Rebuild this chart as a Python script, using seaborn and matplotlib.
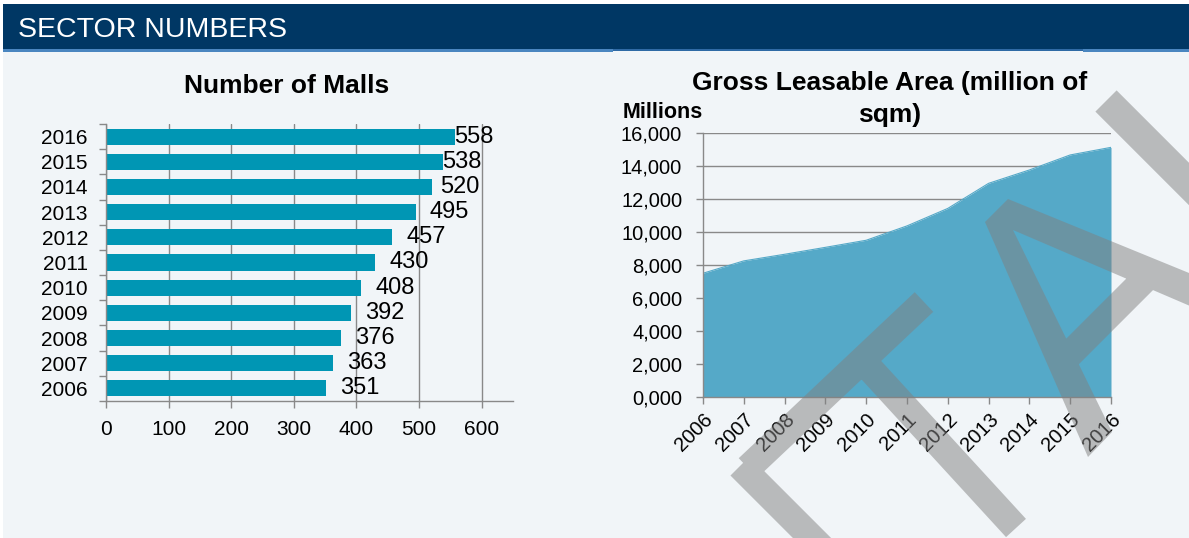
import numpy as np
import pandas as pd
import matplotlib
matplotlib.use("Agg")
import matplotlib.pyplot as plt
import seaborn as sns
from matplotlib.patches import Rectangle, PathPatch
from matplotlib.path import Path
from matplotlib.ticker import FixedLocator

# ---- data -------------------------------------------------------------
years = [2006, 2007, 2008, 2009, 2010, 2011, 2012, 2013, 2014, 2015, 2016]
malls = [351, 363, 376, 392, 408, 430, 457, 495, 520, 538, 558]
gla = [7500, 8250, 8650, 9070, 9500, 10370, 11430, 12950, 13760, 14670, 15130]
mall_ticks = [0, 100, 200, 300, 400, 500, 600]
gla_ticks = [0, 2000, 4000, 6000, 8000, 10000, 12000, 14000, 16000]
gla_tick_labels = ["0,000", "2,000", "4,000", "6,000", "8,000",
                   "10,000", "12,000", "14,000", "16,000"]

# label offsets (pixels past the bar end), 2006 -> 2016
label_shift_px = [14, 14, 14, 14, 14, 14, 14, 14, 9, -1, -1]

# ---- style ------------------------------------------------------------
sns.set_theme(style="white")
plt.rcParams["font.family"] = ["Liberation Sans", "DejaVu Sans"]
plt.rcParams["text.color"] = "black"

W, H = 1189, 538
BG = "#F1F5F8"
NAVY = "#003764"
GRID = "#898989"
BAR = "#0096B4"
AREA = "#55A9C8"
PX = 72 / 100  # points per pixel at 100 dpi

fig = plt.figure(figsize=(W / 100, H / 100), dpi=100, facecolor="white")

# page background, header band and titles in pixel coordinates
bg = fig.add_axes([0, 0, 1, 1], zorder=-10)
bg.set_xlim(0, W)
bg.set_ylim(H, 0)
bg.axis("off")
bg.add_patch(Rectangle((3, 4), W - 3, H - 4, color=BG, lw=0))
bg.add_patch(Rectangle((3, 4), W - 3, 45, color=NAVY, lw=0))
bg.add_patch(Rectangle((3, 49), 610, 3, color="#4A86C0", lw=0))
bg.add_patch(Rectangle((613, 49), 470, 1.5, color="#2F6AA5", lw=0))
bg.add_patch(Rectangle((1083, 49), W - 1083, 3, color="#4A86C0", lw=0))
bg.text(18, 37, "SECTOR NUMBERS", color="white", fontsize=20.5,
        ha="left", va="baseline")
bg.text(287, 93, "Number of Malls", fontsize=19, fontweight="bold",
        ha="center", va="baseline")
bg.text(890, 90, "Gross Leasable Area (million of", fontsize=19,
        fontweight="bold", ha="center", va="baseline")
bg.text(890, 122, "sqm)", fontsize=19, fontweight="bold",
        ha="center", va="baseline")
bg.text(623, 118, "Millions", fontsize=15.5, fontweight="bold",
        ha="left", va="baseline")

# ---- left: number of malls ------------------------------------------
ax1 = fig.add_axes([106 / W, 1 - 401 / H, 407 / W, 277 / H])
ax1.set_facecolor("none")
df = pd.DataFrame({"year": [str(y) for y in years], "malls": malls})
order = [str(y) for y in years[::-1]]
sns.barplot(data=df, x="malls", y="year", order=order, orient="h",
            color=BAR, saturation=1, width=0.64, linewidth=0, ax=ax1)
ax1.set_xlim(0, 650)
ax1.set_ylim(10.5, -0.5)
ax1.set_xlabel("")
ax1.set_ylabel("")
ax1.set_xticks(mall_ticks)
ax1.set_xticklabels([str(t) for t in mall_ticks])
ax1.grid(axis="x", color=GRID, lw=1.0)
ax1.grid(axis="y", visible=False)
ax1.set_axisbelow(True)
for s in ("top", "right"):
    ax1.spines[s].set_visible(False)
for s in ("left", "bottom"):
    ax1.spines[s].set_color(GRID)
    ax1.spines[s].set_linewidth(1.0)
ax1.yaxis.set_minor_locator(FixedLocator(np.arange(-0.5, 11, 1)))
ax1.tick_params(axis="y", which="major", length=0, pad=13, labelsize=15,
                labelcolor="black")
ax1.tick_params(axis="y", which="minor", left=True, length=5, width=1.0,
                color=GRID, direction="out")
ax1.tick_params(axis="x", which="major", bottom=True, length=5, width=1.0,
                color=GRID, direction="out", pad=9, labelsize=15,
                labelcolor="black")

lookup = dict(zip(years, malls))
shift = dict(zip(years, label_shift_px))
for i, y in enumerate(years[::-1]):
    v = lookup[y]
    ax1.annotate(str(v), xy=(v, i), xytext=(shift[y] * PX, 0),
                 textcoords="offset points", ha="left", va="center",
                 fontsize=17, color="black")

# ---- right: gross leasable area -------------------------------------
ax2 = fig.add_axes([703 / W, 1 - 397 / H, 408 / W, 264 / H])
ax2.set_facecolor("none")
ax2.fill_between(years, gla, 0, color=AREA, lw=0, zorder=2)
sns.lineplot(x=years, y=gla, color=AREA, lw=0.8, ax=ax2, zorder=3)
ax2.set_xlim(2006, 2016)
ax2.set_ylim(0, 16000)
ax2.set_yticks(gla_ticks)
ax2.set_yticklabels(gla_tick_labels)
ax2.set_xticks(years)
ax2.set_xticklabels([str(y) for y in years], rotation=45, ha="right",
                    rotation_mode="anchor")
ax2.grid(axis="y", color=GRID, lw=1.0, zorder=1)
ax2.grid(axis="x", visible=False)
ax2.set_axisbelow(True)
for s in ("top", "right"):
    ax2.spines[s].set_visible(False)
for s in ("left", "bottom"):
    ax2.spines[s].set_color(GRID)
    ax2.spines[s].set_linewidth(1.0)
    ax2.spines[s].set_zorder(4)
ax2.tick_params(axis="y", left=True, length=5, width=1.0, color=GRID,
                direction="out", pad=10, labelsize=14.5, labelcolor="black")
ax2.tick_params(axis="x", bottom=True, length=5, width=1.0, color=GRID,
                direction="out", pad=4, labelsize=14.5, labelcolor="black")

# ---- watermark strokes, drawn over everything -----------------------
wm = fig.add_axes([0, 0, 1, 1], zorder=10)
wm.set_xlim(0, W)
wm.set_ylim(H, 0)
wm.axis("off")
wm.set_facecolor("none")


def stroke(p0, p1, w):
    p0 = np.asarray(p0, float)
    p1 = np.asarray(p1, float)
    d = (p1 - p0) / np.hypot(*(p1 - p0))
    n = np.array([-d[1], d[0]]) * w / 2
    return np.array([p0 + n, p1 + n, p1 - n, p0 - n])


def oriented(poly):
    x, y = poly[:, 0], poly[:, 1]
    area = 0.5 * np.sum(x * np.roll(y, -1) - np.roll(x, -1) * y)
    return poly if area > 0 else poly[::-1]


a_legs = np.array([(985, 222), (1008, 199), (1260, 302), (1260, 336),
                   (1013, 230), (1112, 432), (1088, 457)], float)
polys = [
    stroke((924, 302), (748, 468), 27),    # T bar
    stroke((740, 466), (850, 576), 27),    # stroke below
    stroke((862, 360), (1016, 528), 27),   # T stem
    a_legs,                                # A legs
    stroke((1068, 356), (1150, 274), 27),  # A crossbar
    stroke((1106, 101), (1260, 255), 30),  # top-right stroke
]
verts, codes = [], []
for p in polys:
    p = oriented(p)
    verts.extend(list(p) + [p[0]])
    codes.extend([Path.MOVETO] + [Path.LINETO] * (len(p) - 1) + [Path.CLOSEPOLY])
wm.add_patch(PathPatch(Path(verts, codes), facecolor="#808080", alpha=0.5,
                       lw=0))

fig.savefig("out.png", dpi=100, facecolor="white")
